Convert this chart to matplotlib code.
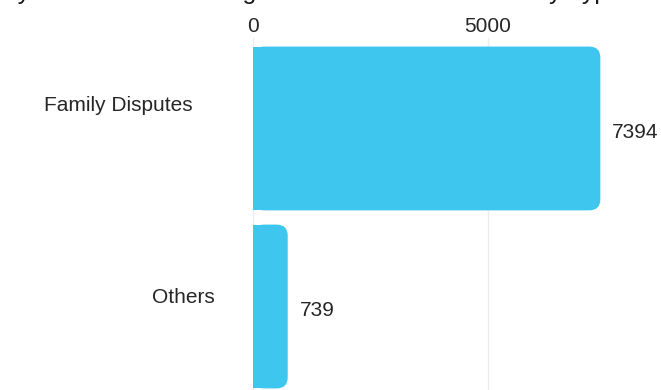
import matplotlib.pyplot as plt
from matplotlib.patches import FancyBboxPatch, Rectangle
import matplotlib.transforms as mtransforms

categories = ["Family Disputes", "Others"]
counts = [7394, 739]
x_ticks = [0, 5000]
title = "Category Wise Details of Registered Cases at the Cell by Type"

bar_color = "#3ec6ee"
text_color = "#262626"

plt.rcParams['font.family'] = ['Liberation Sans', 'DejaVu Sans']

fig = plt.figure(figsize=(6.61, 3.90), dpi=100)
# axes placed in pixel terms: left edge at x=0 value, top under the tick labels
ax = fig.add_axes([253 / 661, 0, 404 / 661, (390 - 38) / 390])
ax.set_xlim(0, 8600)
ax.set_ylim(1.469, -0.508)

ypos = list(range(len(categories)))
bar_h = 0.92

for x in x_ticks:
    ax.axvline(x, color="#ececec", lw=1, zorder=0)

bars = ax.barh(ypos, counts, height=bar_h, color=bar_color, alpha=0)

# rounded right end, square left end
px_x = 404 / 8600
px_y = 352 / 1.977
rad_px = 11
for b in bars:
    x0, y0 = b.get_x(), b.get_y()
    w, h = b.get_width(), b.get_height()
    rad = rad_px / px_x
    p = FancyBboxPatch((x0, y0), w, h,
                       boxstyle=f"round,pad=0,rounding_size={rad}",
                       mutation_aspect=px_x / px_y,
                       fc=bar_color, ec="none", zorder=2)
    ax.add_patch(p)
    ax.add_patch(Rectangle((x0, y0), min(w / 2, rad * 1.2), h,
                           fc=bar_color, ec="none", zorder=2))

for y, v in zip(ypos, counts):
    ax.text(v + 12 / px_x, y + 0.02, str(v), va="center", ha="left",
            fontsize=15, color=text_color)

# category labels sit left of the axis
label_x = [193, 215]
label_dy = [-0.13, -0.05]
trans = mtransforms.blended_transform_factory(fig.transFigure, ax.transData)
for name, y, lx, dy in zip(categories, ypos, label_x, label_dy):
    fig.text(lx / 661, y + dy, name, transform=trans, ha="right", va="center",
             fontsize=15, color=text_color)

ax.xaxis.tick_top()
ax.set_xticks(x_ticks)
ax.set_xticklabels([str(t) for t in x_ticks])
ax.tick_params(axis="x", length=0, pad=1.5, labelsize=15, labelcolor=text_color)
ax.set_yticks([])
for s in ax.spines.values():
    s.set_visible(False)

# title sits mostly above the top edge
fig.text(0.5 - 55 / 661, 391 / 390, title, ha="center", va="baseline",
         fontsize=18, color="#1a1a1a")

fig.savefig("out.png", dpi=100)
